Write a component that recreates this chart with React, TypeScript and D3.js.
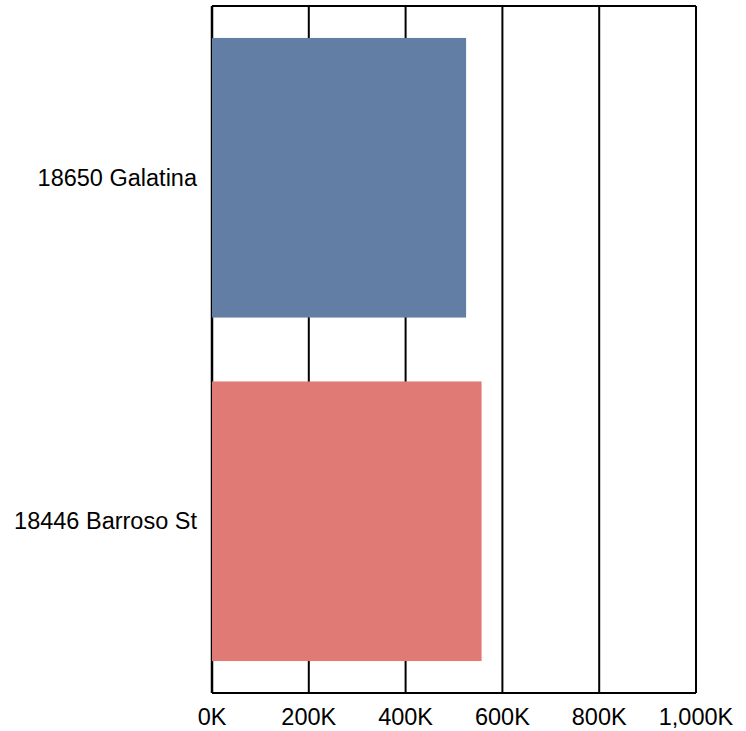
import React from "react";
import * as d3 from "d3";

const categories = ["18650 Galatina", "18446 Barroso St"];
const values = [525000, 557000];
const colors = ["#637ea5", "#e07a74"];
const tickValues = [0, 200000, 400000, 600000, 800000, 1000000];

const W = 746;
const H = 731;
const margin = { left: 212, right: 50, top: 6, bottom: 38 };

export default function App() {
  const x = d3.scaleLinear().domain([0, 1000000]).range([margin.left, W - margin.right]);
  const y = d3
    .scaleBand<string>()
    .domain(categories)
    .range([margin.top, H - margin.bottom])
    .paddingInner(0.186)
    .paddingOuter(0.093);
  const fmt = (v: number) => d3.format(",")(v / 1000) + "K";
  const font = "'Liberation Sans', Arial, sans-serif";
  return (
    <svg width={W} height={H} style={{ position: "absolute", left: 0, top: 0 }}>
      <rect x={0} y={0} width={W} height={H} fill="#fff" />
      <line x1={x(0)} x2={x(1000000)} y1={margin.top} y2={margin.top} stroke="#000" strokeWidth={2} />
      <line x1={x(0)} x2={x(1000000)} y1={H - margin.bottom} y2={H - margin.bottom} stroke="#000" strokeWidth={2} />
      {tickValues.map((t) => (
        <line key={t} x1={x(t)} x2={x(t)} y1={margin.top} y2={H - margin.bottom} stroke="#000" strokeWidth={t === 0 ? 2.5 : 2} />
      ))}
      {categories.map((c, i) => (
        <rect key={c} x={x(0)} y={y(c)} width={x(values[i]) - x(0)} height={y.bandwidth()} fill={colors[i]} />
      ))}
      {categories.map((c) => (
        <text key={c} x={x(0) - 15} y={(y(c) as number) + y.bandwidth() / 2} textAnchor="end" dominantBaseline="central" fontFamily={font} fontSize={23.5} fill="#000">
          {c}
        </text>
      ))}
      {tickValues.map((t) => (
        <text key={t} x={x(t)} y={H - margin.bottom + 24} textAnchor="middle" dominantBaseline="central" fontFamily={font} fontSize={23.5} fill="#000">
          {fmt(t)}
        </text>
      ))}
    </svg>
  );
}
